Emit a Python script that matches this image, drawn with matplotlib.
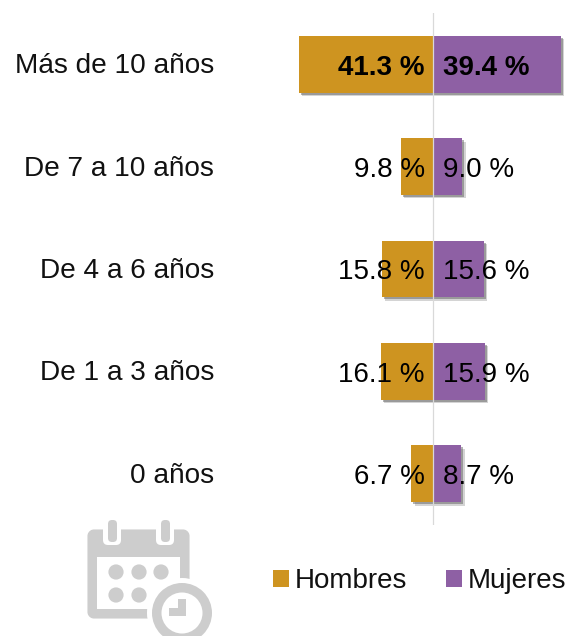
import matplotlib
matplotlib.use("Agg")
from matplotlib import pyplot as plt
from matplotlib import patheffects as pe
from matplotlib.patches import Patch, Circle, FancyBboxPatch, Rectangle
from matplotlib.transforms import ScaledTranslation

plt.rcParams['font.family'] = ['Liberation Sans', 'DejaVu Sans']

categories = ['Más de 10 años', 'De 7 a 10 años', 'De 4 a 6 años', 'De 1 a 3 años', '0 años']
hombres = [41.3, 9.8, 15.8, 16.1, 6.7]
mujeres = [39.4, 9.0, 15.6, 15.9, 8.7]

W, H = 567, 636
C_H = '#CE9420'
C_M = '#8E60A4'
GREY = '#CDCDCD'
FS = 20

fig = plt.figure(figsize=(W/100, H/100), dpi=100, facecolor='white')

# calendar icon, in pixel coordinates
ic = fig.add_axes([0, 0, 1, 1], zorder=0)
ic.set_xlim(0, W)
ic.set_ylim(H, 0)
ic.axis('off')
ic.add_patch(FancyBboxPatch((93, 535), 91, 78, boxstyle='round,pad=0,rounding_size=1', fc=GREY, ec=GREY, lw=8, joinstyle='round'))
ic.add_patch(Rectangle((97, 557), 83, 52, fc='white', ec='none'))
for x in (103, 156):
    ic.add_patch(FancyBboxPatch((x, 515), 18, 30, boxstyle='round,pad=0,rounding_size=5', fc='white', ec='none'))
    ic.add_patch(FancyBboxPatch((x+5, 520), 9, 22, boxstyle='round,pad=0,rounding_size=4', fc=GREY, ec='none'))
for x, y in [(116, 572), (139, 572), (161, 572), (116, 595), (139, 595)]:
    ic.add_patch(Circle((x, y), 7.6, fc=GREY, ec='none'))
ic.add_patch(Circle((182, 613), 35, fc='white', ec='none'))
ic.add_patch(Circle((182, 613), 30, fc=GREY, ec='none'))
ic.add_patch(Circle((182, 613), 20.5, fc='white', ec='none'))
ic.add_patch(Rectangle((178, 599), 8, 17, fc=GREY, ec='none'))
ic.add_patch(Rectangle((169, 608), 17, 8, fc=GREY, ec='none'))

# main chart, zero sits at x=433 px
left = 222
scale = 3.25
ax = fig.add_axes([left/W, 1-525/H, (W-left)/W, 512/H], zorder=1)
ax.patch.set_alpha(0)
ax.set_xlim((left-433)/scale, (W-433)/scale)
ax.set_ylim(4.5, -0.5)

# soft shadow, two layers
shadow = [pe.SimplePatchShadow(offset=(2.4, -2.4), shadow_rgbFace='#555555', alpha=0.25),
          pe.SimplePatchShadow(offset=(1.4, -1.4), shadow_rgbFace='#555555', alpha=0.45),
          pe.Normal()]
y = list(range(len(categories)))
b1 = ax.barh(y, [-v for v in hombres], height=0.555, color=C_H, zorder=2)
b2 = ax.barh(y, mujeres, height=0.555, color=C_M, zorder=2)
for b in list(b1) + list(b2):
    b.set_path_effects(shadow)
ax.axvline(0, color='#D9D9D9', lw=0.9, zorder=3)

for i in y:
    w = 'bold' if i == 0 else 'normal'
    ax.annotate(f'{hombres[i]:.1f} %', (0, i), xytext=(-6, -2.4), textcoords='offset points',
                ha='right', va='center', fontsize=FS, fontweight=w, color='black', zorder=4)
    ax.annotate(f'{mujeres[i]:.1f} %', (0, i), xytext=(7, -2.4), textcoords='offset points',
                ha='left', va='center', fontsize=FS, fontweight=w, color='black', zorder=4)

ax.set_yticks(y)
ax.set_yticklabels(categories, fontsize=20.2, color='#111111')
ax.tick_params(axis='y', length=0, pad=5.7)
ax.set_xticks([])
for lab in ax.get_yticklabels():
    lab.set_transform(lab.get_transform() + ScaledTranslation(0, 1/100, fig.dpi_scale_trans))
for s in ax.spines.values():
    s.set_visible(False)

handles = [Patch(fc=C_H, ec='none', label='Hombres'), Patch(fc=C_M, ec='none', label='Mujeres')]
fig.legend(handles=handles, loc='center right', bbox_to_anchor=(566/W, 1-581/H), ncol=2, frameon=False,
           fontsize=FS, handlelength=0.58, handleheight=0.58, handletextpad=0.2, columnspacing=1.4,
           borderpad=0, borderaxespad=0, labelcolor='#111111')

fig.savefig('out.png', dpi=100)
